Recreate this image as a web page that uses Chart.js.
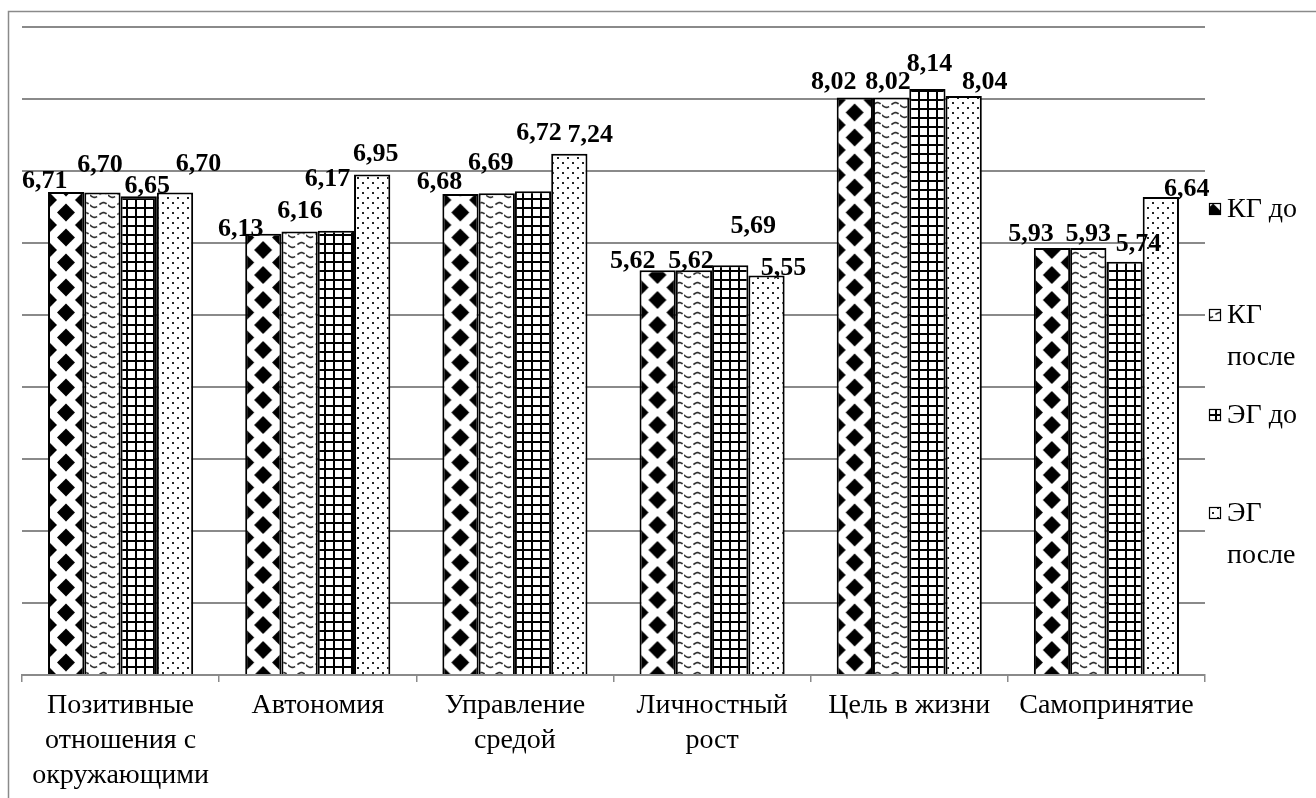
<!DOCTYPE html>
<html>
<head>
<meta charset="utf-8">
<script src="https://cdn.jsdelivr.net/npm/chart.js@4.4.0/dist/chart.umd.min.js"></script>
<style>
  html, body { margin: 0; padding: 0; background: #fff; overflow: hidden; }
  #wrap { width: 1316px; height: 798px; position: relative; }
</style>
</head>
<body>
<div id="wrap"><canvas id="c"></canvas></div>
<script>
// Шкалы психологического благополучия: КГ и ЭГ до и после
const categories = [
  ['Позитивные', 'отношения с', 'окружающими'],
  'Автономия',
  ['Управление', 'средой'],
  ['Личностный', 'рост'],
  'Цель в жизни',
  'Самопринятие'
];
const seriesNames = ['КГ до', 'КГ после', 'ЭГ до', 'ЭГ после'];
const kgBefore = [6.71, 6.13, 6.68, 5.62, 8.02, 5.93];
const kgAfter  = [6.70, 6.16, 6.69, 5.62, 8.02, 5.93];
const egBefore = [6.65, 6.17, 6.72, 5.69, 8.14, 5.74];
const egAfter  = [6.70, 6.95, 7.24, 5.55, 8.04, 6.64];
const yMin = 0, yMax = 9, yStep = 1;

// value label nudges (px, relative to the top centre of each bar)
const labelDx = [
  [-21.5, -22.5, -21, -25, -21, -21],
  [-2.5, 0.5, -6, -3, -3, 0],
  [8.5, -8.5, 6, 23, 2, 14],
  [23.5, 3.5, 21, 17, 21, 26]
];
const labelDy = [
  [-13, -7, -14, -11, -18, -16],
  [-30, -22, -32, -11, -18, -16],
  [-12, -54, -60, -41, -27, -20],
  [-31, -23, -21, -9, -16, -10]
];

const SERIF = '"Liberation Serif", "Times New Roman", serif';

function tile(w, h, draw) {
  const c = document.createElement('canvas');
  c.width = w; c.height = h;
  const g = c.getContext('2d');
  g.fillStyle = '#fff';
  g.fillRect(0, 0, w, h);
  draw(g, w, h);
  return c;
}
function diamond(g, cx, cy, rx, ry) {
  g.beginPath();
  g.moveTo(cx, cy - ry); g.lineTo(cx + rx, cy); g.lineTo(cx, cy + ry); g.lineTo(cx - rx, cy);
  g.closePath(); g.fill();
}
const tiles = [
  // black diamonds: one column in the middle of a bar, halves on its edges
  tile(36, 25, (g, w, h) => {
    g.fillStyle = '#000';
    const rx = 9, ry = 9;
    diamond(g, w / 2, h / 2, rx, ry);
    [[0, 0], [w, 0], [0, h], [w, h]].forEach(p => diamond(g, p[0], p[1], rx, ry));
  }),
  // wavy dashes
  tile(18, 10, (g, w, h) => {
    g.strokeStyle = '#333';
    g.lineWidth = 1.7;
    g.setLineDash([8, 3]);
    g.beginPath();
    for (let x = 0; x <= w; x += 0.5) {
      const y = 5 + 2.4 * Math.sin((x / w) * Math.PI * 2);
      if (x === 0) g.moveTo(x, y); else g.lineTo(x, y);
    }
    g.stroke();
  }),
  // grid
  tile(9, 9, (g, w, h) => {
    g.fillStyle = '#000';
    g.fillRect(0, 0, 2, h);
    g.fillRect(0, 0, w, 2);
  }),
  // dots
  tile(10, 10, (g) => {
    g.fillStyle = '#222';
    g.fillRect(2, 2, 2, 2);
    g.fillRect(7, 7, 2, 2);
  })
];

const canvas = document.getElementById('c');
canvas.width = 1316; canvas.height = 798;
canvas.style.width = '1316px'; canvas.style.height = '798px';
const ctx = canvas.getContext('2d');
const patterns = tiles.map(t => ctx.createPattern(t, 'repeat'));

// keep the diamond columns in step with every bar of the first series
const diamondPhase = {
  id: 'diamondPhase',
  beforeDatasetsDraw(chart) {
    const x = chart.scales.x;
    const bars = chart.getDatasetMeta(0).data;
    if (!bars.length || !patterns[0].setTransform) return;
    const catW = x.getPixelForValue(1) - x.getPixelForValue(0);
    const s = catW / (5.5 * 36);
    const left = bars[0].x - bars[0].width / 2;
    patterns[0].setTransform(new DOMMatrix([s, 0, 0, 1, left, 0]));
  }
};

const frame = {
  id: 'frame',
  beforeDraw(chart) {
    const c = chart.ctx;
    c.save();
    c.fillStyle = '#fff';
    c.fillRect(0, 0, chart.width, chart.height);
    c.strokeStyle = '#8a8a8a';
    c.lineWidth = 1.5;
    c.beginPath();
    c.moveTo(8.5, chart.height + 2);
    c.lineTo(8.5, 11.5);
    c.lineTo(chart.width + 2, 11.5);
    c.stroke();
    c.restore();
  }
};

const valueLabels = {
  id: 'valueLabels',
  afterDatasetsDraw(chart) {
    const c = chart.ctx;
    c.save();
    c.font = 'bold 26px ' + SERIF;
    c.fillStyle = '#000';
    c.textAlign = 'center';
    c.textBaseline = 'alphabetic';
    chart.data.datasets.forEach((ds, i) => {
      chart.getDatasetMeta(i).data.forEach((bar, j) => {
        const txt = ds.data[j].toFixed(2).replace('.', ',');
        c.fillText(txt, bar.x + labelDx[i][j], bar.y + labelDy[i][j] + 9);
      });
    });
    c.restore();
  }
};

// legend on the right, wrapped into the free column
const sideLegend = {
  id: 'sideLegend',
  afterDraw(chart) {
    const c = chart.ctx;
    const rows = [209, 315, 415, 513];
    const boxX = 1209, textX = 1227, lineGap = 42, maxW = chart.width - textX - 2;
    c.save();
    c.font = '28px ' + SERIF;
    c.textBaseline = 'middle';
    c.textAlign = 'left';
    chart.data.datasets.forEach((ds, i) => {
      const words = ds.label.split(' ');
      const lines = [];
      let cur = '';
      words.forEach(w => {
        const t = cur ? cur + ' ' + w : w;
        if (cur && c.measureText(t).width > maxW) { lines.push(cur); cur = w; } else cur = t;
      });
      lines.push(cur);
      const y0 = rows[i];
      c.fillStyle = ds.backgroundColor;
      c.fillRect(boxX, y0 - 6, 12, 12);
      c.strokeStyle = '#000';
      c.lineWidth = 1.2;
      c.strokeRect(boxX + 0.5, y0 - 5.5, 11, 11);
      c.fillStyle = '#000';
      lines.forEach((ln, k) => c.fillText(ln, textX, y0 + k * lineGap + 1));
    });
    c.restore();
  }
};

const series = [kgBefore, kgAfter, egBefore, egAfter];
new Chart(ctx, {
  type: 'bar',
  data: {
    labels: categories,
    datasets: series.map((d, i) => ({
      label: seriesNames[i],
      data: d,
      backgroundColor: patterns[i],
      borderColor: '#000',
      borderWidth: 2,
      borderSkipped: 'bottom',
      categoryPercentage: 0.736,
      barPercentage: 1.0
    }))
  },
  options: {
    responsive: false,
    animation: false,
    devicePixelRatio: 1,
    layout: { padding: { left: 22, right: 111, top: 27, bottom: 0 } },
    plugins: { legend: { display: false }, tooltip: { enabled: false } },
    scales: {
      x: {
        grid: { display: true, offset: true, drawOnChartArea: false, drawTicks: true, tickLength: 7, color: '#8a8a8a', lineWidth: 1.5 },
        border: { display: true, color: '#8a8a8a', width: 2 },
        ticks: { color: '#000', font: { family: SERIF, size: 28, lineHeight: 1.25 }, padding: 6, maxRotation: 0, autoSkip: false },
        afterFit(scale) { scale.height = 123; }
      },
      y: {
        min: yMin, max: yMax,
        ticks: { display: false, stepSize: yStep },
        grid: { color: '#8a8a8a', lineWidth: 2, drawTicks: false },
        border: { display: false },
        afterFit(scale) { scale.width = 0; }
      }
    }
  },
  plugins: [frame, diamondPhase, valueLabels, sideLegend]
});
</script>
</body>
</html>
